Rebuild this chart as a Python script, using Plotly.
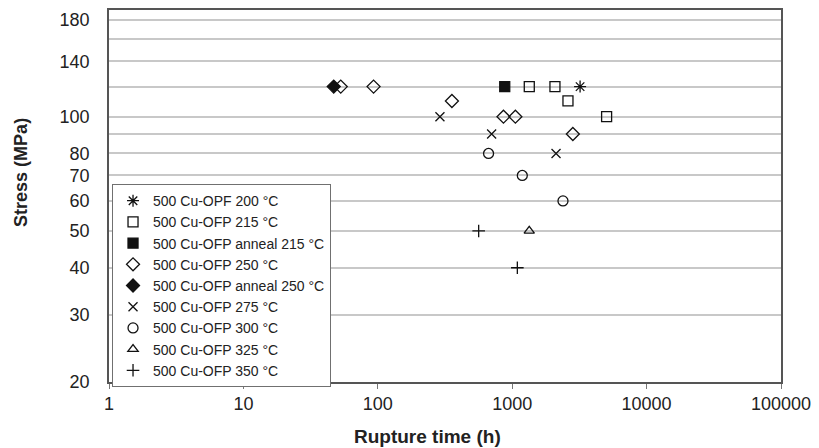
import plotly.graph_objects as go

# ---- data (rupture time h, stress MPa) ----
t200 = [3200]
s200 = [120]
t215 = [1340, 2080, 2600, 5040]
s215 = [120, 120, 110, 100]
t215a = [880]
s215a = [120]
t250 = [53, 93, 356, 861, 1056, 2826]
s250 = [120, 120, 110, 100, 100, 90]
t250a = [47]
s250a = [120]
t275 = [290, 703, 2119]
s275 = [100, 90, 80]
t300 = [667, 1189, 2387]
s300 = [80, 70, 60]
t325 = [1339]
s325 = [50]
t350 = [563, 1092]
s350 = [50, 40]

series = [
    ("500 Cu-OPF 200 °C", t200, s200, "asterisk-open", 10),
    ("500 Cu-OFP 215 °C", t215, s215, "square-open", 10),
    ("500 Cu-OFP anneal 215 °C", t215a, s215a, "square", 10),
    ("500 Cu-OFP 250 °C", t250, s250, "diamond-open", 10),
    ("500 Cu-OFP anneal 250 °C", t250a, s250a, "diamond", 10),
    ("500 Cu-OFP 275 °C", t275, s275, "x-thin-open", 9),
    ("500 Cu-OFP 300 °C", t300, s300, "circle-open", 10),
    ("500 Cu-OFP 325 °C", t325, s325, "triangle-up-open", 9),
    ("500 Cu-OFP 350 °C", t350, s350, "cross-thin-open", 9),
]

x_ticks = [1, 10, 100, 1000, 10000, 100000]
x_labels = ["1", "10", "100", "1000", "10000", "100000"]
y_grid = [20, 30, 40, 50, 60, 70, 80, 90, 100, 120, 140, 160, 180]
y_labels = ["20", "30", "40", "50", "60", "70", "80", "", "100", "", "140", "", "180"]

FONT = "Liberation Sans, Arial, sans-serif"

L, R, T, B = 109, 32, 8, 66
W, H = 819, 448
PW, PH = W - L - R, H - T - B

fig = go.Figure()
for name, xs, ys, sym, sz in series:
    fig.add_trace(go.Scatter(
        x=xs, y=ys, mode="markers", name=name,
        marker=dict(symbol=sym, size=sz, color="#111111",
                    line=dict(color="#111111", width=1.3)),
    ))

fig.update_layout(
    width=W, height=H,
    margin=dict(l=L, r=R, t=T, b=B),
    paper_bgcolor="white", plot_bgcolor="white",
    font=dict(family=FONT, size=18, color="#222222"),
    showlegend=True,
    legend=dict(
        x=0.0045, y=0.532, xanchor="left", yanchor="top",
        bgcolor="white", bordercolor="#707070", borderwidth=1,
        font=dict(family=FONT, size=14, color="#222222"),
        tracegroupgap=0,
    ),
    xaxis=dict(
        type="log", range=[0, 5],
        tickvals=x_ticks, ticktext=x_labels,
        showgrid=False, zeroline=False,
        showline=True, linecolor="#555555", linewidth=1.5, mirror=True,
        ticks="outside", ticklen=5, tickcolor="#777777",
        tickfont=dict(size=18),
    ),
    yaxis=dict(
        type="log", range=[1.30103, 2.281],
        tickvals=y_grid, ticktext=y_labels,
        showgrid=True, gridcolor="#c8c8c8", gridwidth=1.5,
        zeroline=False,
        showline=True, linecolor="#555555", linewidth=1.5, mirror=True,
        ticks="", ticklabelstandoff=14,
        tickfont=dict(size=18),
    ),
    annotations=[
        dict(text="<b>Rupture time (h)</b>", xref="paper", yref="paper",
             x=(430 - L) / PW, y=-(437 - (T + PH)) / PH,
             xanchor="center", yanchor="middle", showarrow=False,
             font=dict(size=19, family=FONT, color="#222222")),
        dict(text="<b>Stress (MPa)</b>", xref="paper", yref="paper",
             x=-(L - 20) / PW, y=((T + PH) - 171) / PH,
             xanchor="center", yanchor="middle", showarrow=False,
             textangle=-90,
             font=dict(size=18, family=FONT, color="#222222")),
    ],
)

fig.write_html("out.html")
